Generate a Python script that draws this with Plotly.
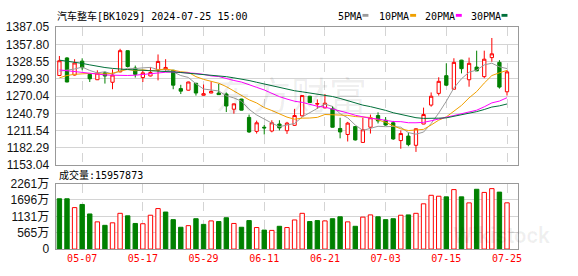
import plotly.graph_objects as go
import pandas as pd

W, H = 578, 276

dates = ["04-29", "04-30", "05-06", "05-07", "05-08", "05-09", "05-10", "05-13", "05-14", "05-15",
         "05-16", "05-17", "05-20", "05-21", "05-22", "05-23", "05-24", "05-27", "05-28", "05-29",
         "05-30", "05-31", "06-03", "06-04", "06-05", "06-06", "06-07", "06-11", "06-12", "06-13",
         "06-14", "06-17", "06-18", "06-19", "06-20", "06-21", "06-24", "06-25", "06-26", "06-27",
         "06-28", "07-01", "07-02", "07-03", "07-04", "07-05", "07-08", "07-09", "07-10", "07-11",
         "07-12", "07-15", "07-16", "07-17", "07-18", "07-19", "07-22", "07-23", "07-24", "07-25"]

opens = [1305.0, 1334.7, 1305.8, 1329.3, 1306.9, 1297.8, 1309.6, 1293.5, 1311.1, 1347.0,
         1317.6, 1301.5, 1304.2, 1313.8, 1315.4, 1313.8, 1282.8, 1280.1, 1291.8, 1271.5,
         1275.3, 1275.3, 1273.7, 1247.9, 1265.1, 1234.0, 1210.4, 1217.4, 1211.0, 1222.8,
         1211.5, 1220.6, 1236.7, 1269.9, 1256.5, 1250.1, 1248.5, 1215.3, 1205.1, 1218.5,
         1191.7, 1217.4, 1237.2, 1229.2, 1224.9, 1194.8, 1202.4, 1186.8, 1222.8, 1254.9,
         1274.7, 1304.7, 1281.7, 1331.0, 1297.8, 1319.2, 1303.1, 1335.3, 1327.2, 1277.4]
highs = [1338.0, 1336.0, 1332.6, 1334.1, 1307.5, 1313.8, 1311.7, 1315.4, 1350.2, 1347.5,
         1321.8, 1313.8, 1319.2, 1340.6, 1332.6, 1314.5, 1289.2, 1294.5, 1292.5, 1289.7,
         1295.1, 1290.8, 1276.3, 1257.5, 1265.5, 1238.8, 1228.6, 1221.1, 1229.2, 1229.2,
         1226.5, 1248.5, 1271.5, 1270.5, 1264.5, 1273.7, 1253.3, 1233.5, 1226.5, 1219.0,
         1233.5, 1238.8, 1242.6, 1234.6, 1228.1, 1212.0, 1208.3, 1215.3, 1250.6, 1276.3,
         1302.0, 1325.6, 1334.2, 1331.5, 1335.3, 1347.0, 1347.0, 1368.5, 1331.0, 1313.8]
lows = [1304.0, 1293.5, 1305.0, 1313.8, 1294.0, 1297.3, 1291.3, 1281.7, 1310.5, 1318.6,
        1301.5, 1294.0, 1303.5, 1296.7, 1313.0, 1281.7, 1273.6, 1279.5, 1271.0, 1271.0,
        1275.0, 1272.0, 1243.1, 1240.4, 1246.0, 1207.8, 1206.7, 1205.1, 1208.8, 1212.0,
        1206.1, 1219.5, 1235.1, 1259.0, 1248.5, 1249.5, 1217.0, 1198.6, 1193.3, 1194.9,
        1191.5, 1206.7, 1223.8, 1220.1, 1196.0, 1181.0, 1185.2, 1175.6, 1222.5, 1252.2,
        1271.0, 1287.0, 1281.5, 1308.5, 1286.0, 1312.5, 1300.4, 1328.3, 1282.8, 1271.0]
closes = [1330.0, 1294.0, 1326.2, 1318.1, 1299.4, 1309.0, 1304.1, 1305.8, 1347.0, 1320.2,
          1306.9, 1309.5, 1310.0, 1328.8, 1318.6, 1288.6, 1278.5, 1294.0, 1275.3, 1274.2,
          1277.9, 1272.6, 1253.3, 1257.0, 1246.3, 1209.4, 1224.9, 1216.3, 1224.9, 1216.3,
          1224.4, 1237.2, 1271.0, 1259.2, 1257.5, 1258.1, 1217.4, 1209.4, 1224.4, 1195.9,
          1213.1, 1233.5, 1228.1, 1221.1, 1197.6, 1206.7, 1188.0, 1214.8, 1238.9, 1269.9,
          1295.1, 1288.6, 1327.2, 1316.5, 1325.6, 1312.8, 1332.6, 1341.7, 1285.4, 1311.1]
prev_close = 1333.0  # close of the day before the first shown candle

# volume in 万 (10k)
volumes = [1736, 1736, 1431, 1540, 1212, 939, 819, 906, 1234, 1147,
           884, 874, 1168, 1398, 1278, 1016, 753, 808, 1048, 852,
           972, 950, 1081, 884, 753, 983, 743, 655, 644, 786,
           743, 1005, 1234, 950, 983, 972, 1048, 1114, 939, 786,
           1103, 1179, 1114, 1016, 1048, 1168, 1179, 1234, 1562, 1856,
           1824, 1802, 2053, 1802, 1594, 2064, 1955, 2086, 1966, 1595.7873]

# MA values at the left edge (window reaches before the first shown day)
ma5_head = [1312.2, 1313.8, 1316.0, 1319.2]
ma10_head = [1301.0, 1305.0, 1307.0, 1308.0, 1308.5, 1308.0, 1307.5, 1309.0, 1312.5]
ma20_head = [1314.5, 1313.0, 1311.5, 1310.5, 1309.0, 1307.5, 1306.0, 1305.5, 1305.0, 1305.0,
             1305.5, 1307.0, 1308.5, 1310.0, 1310.5, 1311.0, 1310.5, 1309.5, 1308.5]
ma30_head = [1331.0, 1329.5, 1327.5, 1325.5, 1323.0, 1320.5, 1318.5, 1317.0, 1315.5, 1315.0,
             1314.5, 1314.0, 1313.0, 1312.5, 1312.0, 1311.0, 1310.0, 1309.0, 1307.5, 1306.5,
             1305.5, 1304.5, 1303.0, 1301.0, 1299.0, 1296.5, 1293.5, 1290.5, 1287.5]

price_ticks = [1153.04, 1182.29, 1211.54, 1240.79, 1270.04, 1299.30, 1328.55, 1357.80, 1387.05]
price_labels = ["1153.04", "1182.29", "1211.54", "1240.79", "1270.04", "1299.30", "1328.55", "1357.80", "1387.05"]
vol_ticks = [0, 565, 1131, 1696, 2261]
vol_labels = ["0", "565万", "1131万", "1696万", "2261万"]
date_ticks = ["05-07", "05-17", "05-29", "06-11", "06-21", "07-03", "07-15", "07-25"]

title_text = "汽车整车[BK1029] 2024-07-25 15:00"
ma_names = ["5PMA", "10PMA", "20PMA", "30PMA"]
ma_colors = ["#9a9a9a", "#f0a000", "#ff00ff", "#00703a"]

RED = "#ff0000"
GREEN = "#008000"
GRID = "#d4d4d4"
FRAME = "#999999"

s = pd.Series(closes)
def ma(n, head):
    vals = s.rolling(n).mean().tolist()
    return head + vals[len(head):]

mas = [ma(5, ma5_head), ma(10, ma10_head), ma(20, ma20_head), ma(30, ma30_head)]

prevs = [prev_close] + closes[:-1]
vol_up = [c >= p for c, p in zip(closes, prevs)]
vol_fill = ["#ffffff" if u else GREEN for u in vol_up]
vol_line = [RED if u else GREEN for u in vol_up]

def px_x(p):
    return p / W
def px_y(p):
    return 1 - p / H

fig = go.Figure()
fig.add_trace(go.Candlestick(
    x=dates, open=opens, high=highs, low=lows, close=closes,
    increasing=dict(line=dict(color=RED, width=1), fillcolor="#ffffff"),
    decreasing=dict(line=dict(color=GREEN, width=1), fillcolor=GREEN),
    whiskerwidth=0, xaxis="x", yaxis="y", showlegend=False, hoverinfo="skip"))
for vals, col, name in zip(mas, ma_colors, ma_names):
    fig.add_trace(go.Scatter(x=dates, y=vals, mode="lines", line=dict(color=col, width=1),
                             name=name, xaxis="x", yaxis="y", showlegend=False, hoverinfo="skip"))
fig.add_trace(go.Bar(x=dates, y=volumes, marker=dict(color=vol_fill, line=dict(color=vol_line, width=1)),
                     xaxis="x2", yaxis="y2", showlegend=False, hoverinfo="skip"))

axis_font = dict(family="Liberation Sans, Arial, sans-serif", size=12, color="#111111")
common_x = dict(type="category", range=[-0.5, 60.5], domain=[px_x(56), px_x(522)],
                tickvals=date_ticks, showgrid=True, gridcolor=GRID, griddash="dash", gridwidth=1,
                showline=True, linecolor=FRAME, linewidth=1, mirror=True, zeroline=False,
                ticks="", fixedrange=True)
fig.update_layout(
    width=W, height=H, margin=dict(l=0, r=0, t=0, b=0),
    paper_bgcolor="#ffffff", plot_bgcolor="#ffffff",
    boxgap=0.38, bargap=0.42,
    xaxis=dict(common_x, anchor="y", showticklabels=False, rangeslider=dict(visible=False)),
    xaxis2=dict(common_x, anchor="y2", showticklabels=True,
                tickfont=dict(family="DejaVu Sans Mono, monospace", size=10, color=RED)),
    yaxis=dict(domain=[px_y(166.7), px_y(21.1)], range=[price_ticks[0], price_ticks[-1]],
               tickvals=price_ticks, ticktext=price_labels, showgrid=True, gridcolor=GRID,
               showline=True, linecolor=FRAME, mirror=True, zeroline=False, ticks="",
               tickfont=axis_font, ticklabelstandoff=3),
    yaxis2=dict(domain=[px_y(255), px_y(186)], range=[0, vol_ticks[-1]],
                tickvals=vol_ticks, ticktext=vol_labels, showgrid=True, gridcolor=GRID,
                showline=True, linecolor=FRAME, mirror=True, zeroline=False, ticks="",
                tickfont=dict(axis_font, family="Liberation Sans, Noto Sans CJK SC, sans-serif"),
                ticklabelstandoff=3),
)

txt_font = dict(family="DejaVu Sans Mono, Noto Sans CJK SC, monospace", size=10, color="#000000")
annotations = [
    dict(text=title_text, x=px_x(55), y=px_y(9.5), xanchor="left", yanchor="middle", font=txt_font),
    dict(text="成交量:" + str(int(round(volumes[-1] * 10000))), x=px_x(57), y=px_y(177.5),
         xanchor="left", yanchor="middle", font=txt_font),
    dict(text="东方财富", x=px_x(293), y=px_y(90), xanchor="center", yanchor="middle",
         font=dict(family="Noto Sans CJK SC", size=38, color="rgba(0,0,0,0.07)")),
    dict(text="<b>Wikistock</b>", x=px_x(505), y=px_y(241), xanchor="center", yanchor="middle",
         font=dict(family="Roboto, sans-serif", size=22, color="rgba(0,0,0,0.06)")),
]
leg_text_x = [338, 380, 426, 472]
leg_box_x = [365, 413, 459, 505]
shapes = []
for name, col, lx, bx in zip(ma_names, ma_colors, leg_text_x, leg_box_x):
    annotations.append(dict(text=name, x=px_x(lx), y=px_y(9.5), xanchor="left", yanchor="middle",
                            font=dict(family="DejaVu Sans Mono, monospace", size=10, color="#000000")))
    shapes.append(dict(type="rect", xref="paper", yref="paper",
                       x0=px_x(bx), x1=px_x(bx + 6), y0=px_y(10.3), y1=px_y(7.3),
                       fillcolor=col, line=dict(width=0)))
for a in annotations:
    a.update(xref="paper", yref="paper", showarrow=False)
fig.update_layout(annotations=annotations, shapes=shapes)

fig.write_html("out.html")
